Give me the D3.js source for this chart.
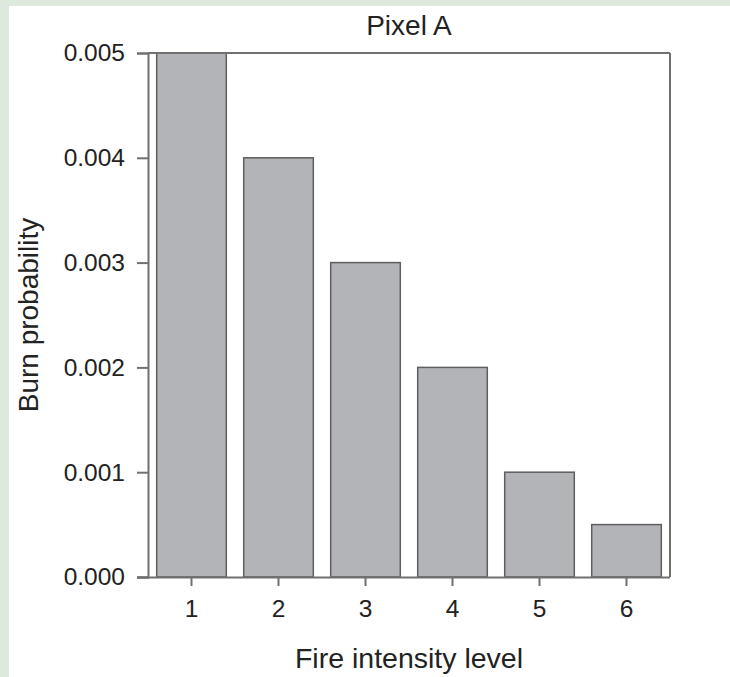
<!DOCTYPE html>
<html><head><meta charset="utf-8">
<script src="https://cdn.jsdelivr.net/npm/d3@7"></script>
<style>
body{margin:0;background:#fff;}
svg{display:block;}
text{font-family:"Liberation Sans",Arial,sans-serif;fill:#222;}
</style></head>
<body>
<script>
const categories = ["1","2","3","4","5","6"];
const values = [0.005, 0.004, 0.003, 0.002, 0.001, 0.0005];
const yTicks = [0, 0.001, 0.002, 0.003, 0.004, 0.005];
const title = "Pixel A";
const xTitle = "Fire intensity level";
const yTitle = "Burn probability";

const W = 730, H = 677;
const svg = d3.select("body").append("svg").attr("width", W).attr("height", H);
svg.append("rect").attr("width", W).attr("height", H).attr("fill", "#dde9dc");
svg.append("rect").attr("x", 9).attr("y", 6).attr("width", W - 9).attr("height", H - 6).attr("fill", "#fff");

const L = 148, R = 670, T = 53, B = 577;
const x = d3.scaleBand().domain(categories).range([L, R]).paddingInner(0.2).paddingOuter(0.1);
const y = d3.scaleLinear().domain([0, 0.005]).range([B, T]);

const axisColor = "#707070";
// bars
svg.append("g").selectAll("rect").data(values).join("rect")
  .attr("x", (d, i) => x(categories[i]))
  .attr("y", d => y(d))
  .attr("width", x.bandwidth())
  .attr("height", d => y(0) - y(d))
  .attr("fill", "#b3b4b8")
  .attr("stroke", "#5e5e5e")
  .attr("stroke-width", 1.5);

// frame top/right
svg.append("line").attr("x1", L).attr("x2", R).attr("y1", T).attr("y2", T).attr("stroke", axisColor).attr("stroke-width", 2);
svg.append("line").attr("x1", R).attr("x2", R).attr("y1", T).attr("y2", B).attr("stroke", axisColor).attr("stroke-width", 2);

// y axis
const yAxis = svg.append("g").attr("transform", `translate(${L},0)`)
  .call(d3.axisLeft(y).tickValues(yTicks).tickFormat(d3.format(".3f")).tickSize(11).tickPadding(12));
// x axis
const xAxis = svg.append("g").attr("transform", `translate(0,${B})`)
  .call(d3.axisBottom(x).tickSize(9).tickPadding(14).tickSizeOuter(0));
xAxis.select(".domain").attr("d", `M${L - 11},0.5H${R}`);

[yAxis, xAxis].forEach(g => {
  g.select(".domain").attr("stroke", axisColor).attr("stroke-width", 2);
  g.selectAll(".tick line").attr("stroke", axisColor).attr("stroke-width", 2);
  g.selectAll(".tick text").attr("font-size", 24.5).attr("fill", "#222")
    .attr("font-family", "'Liberation Sans', Arial, sans-serif");
});

svg.append("text").attr("x", 409).attr("y", 35).attr("text-anchor", "middle")
  .attr("font-size", 28).text(title);
svg.append("text").attr("x", 409).attr("y", 668).attr("text-anchor", "middle")
  .attr("font-size", 28.5).text(xTitle);
svg.append("text").attr("transform", "translate(38,315) rotate(-90)").attr("text-anchor", "middle")
  .attr("font-size", 28).text(yTitle);
</script>
</body></html>
